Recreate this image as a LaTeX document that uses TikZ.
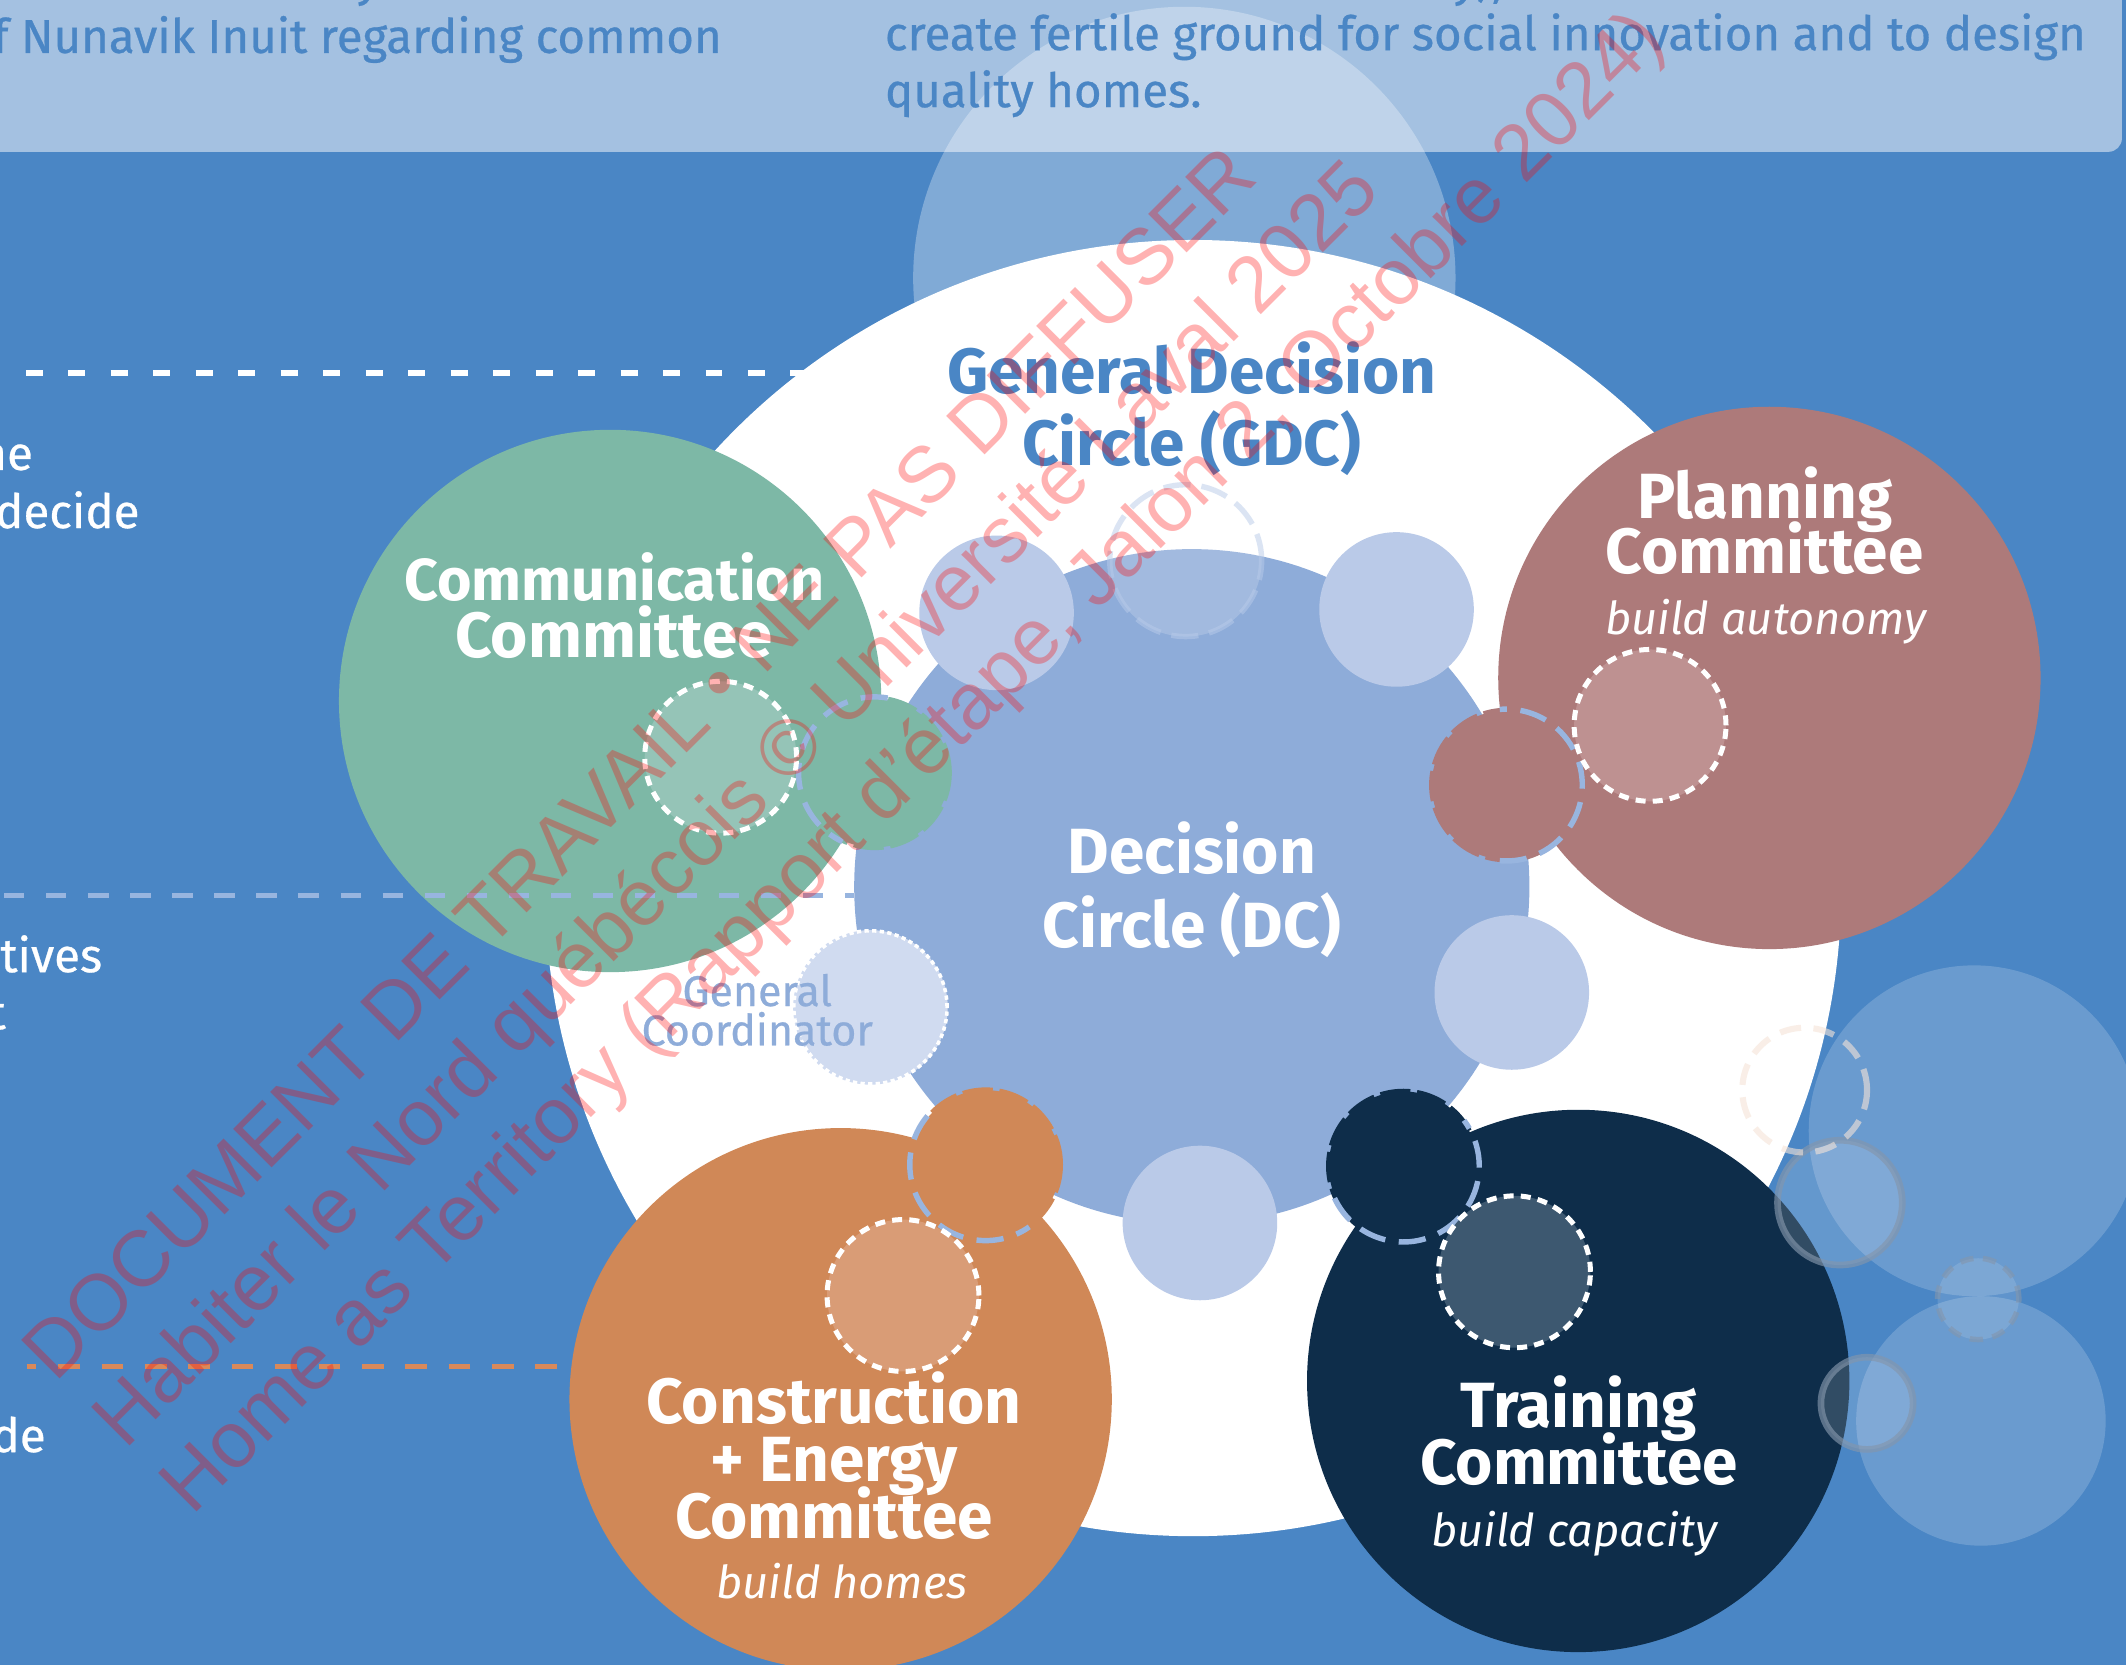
\documentclass[tikz,border=0pt]{standalone}
\usepackage{fontspec}
\setmainfont{Fira Sans}
\newfontfamily\medfont{Fira Sans}[FakeBold=0.6]
\newfontfamily\wmfont{Liberation Sans}
\definecolor{bgblue}{HTML}{4A86C5}
\definecolor{bandblue}{HTML}{A4C1E1}
\definecolor{dcblue}{HTML}{8EACD9}
\definecolor{lightc}{HTML}{BACAE8}
\definecolor{gcfill}{HTML}{D0DBF0}
\definecolor{comgreen}{HTML}{7DB8A6}
\definecolor{comgreenin}{HTML}{95C4B7}
\definecolor{planmauve}{HTML}{AD7A7A}
\definecolor{planmauvein}{HTML}{BE9191}
\definecolor{conorange}{HTML}{D08857}
\definecolor{conorangein}{HTML}{D99C76}
\definecolor{trnavy}{HTML}{0E2D4A}
\definecolor{trnavyin}{HTML}{3D5870}
\definecolor{dashblue}{HTML}{98B5DF}
\definecolor{dashorange}{HTML}{D9895A}
\definecolor{ringgrey}{HTML}{8496AC}
\definecolor{peach}{HTML}{F5E4D8}
\definecolor{faintline}{HTML}{B8CBE9}
\tikzset{
  toptext/.style={inner sep=0pt, font=\medfont\fontsize{9.94}{11}\selectfont, text=bgblue},
  lefttext/.style={inner sep=0pt, font=\medfont\fontsize{9.94}{11}\selectfont, text=white, anchor=base east},
  title/.style={inner sep=0pt, font=\bfseries\fontsize{13.4}{14}\selectfont, anchor=base},
  subtitle/.style={inner sep=0pt, font=\itshape\fontsize{9.5}{11}\selectfont, text=white, anchor=base},
  gctext/.style={inner sep=0pt, font=\medfont\fontsize{9.0}{10}\selectfont, text=dcblue, anchor=base},
  wmtext/.style={inner sep=0pt, font=\wmfont\fontsize{16.6}{18}\selectfont, text=red, text opacity=0.3, anchor=base west, rotate=45},
  whitedots/.style={draw=white, line width=1.05pt, dash pattern=on 2.1pt off 1.5pt},
  gcdots/.style={draw=white, line width=0.75pt, dash pattern=on 0.9pt off 0.7pt},
  attdash/.style={line width=1.14pt, dash pattern=on 6.3pt off 1.4pt},
  arcdash/.style={draw=dashblue, line width=1.14pt, dash pattern=on 5.7pt off 2.85pt},
  hdash/.style={line width=1.14pt},
}
\begin{document}
\begin{tikzpicture}[x=0.01cm,y=0.01cm]
\useasboundingbox (0,0) rectangle (1568,-1228);
\clip (0,0) rectangle (1568,-1228);
% background
\fill[bgblue] (0,0) rectangle (1568,-1228);
% top band
\fill[bandblue, rounded corners=2.85pt] (-30,40) rectangle (1565,-112);
% translucent circle behind top
\fill[white, opacity=0.3] (873.5,-205) circle[radius=200];
% band texts
\node[toptext, anchor=base west] (t0a) at (262,3) {y};
\node[toptext, anchor=base west] (t0b) at (1071,3) {y),};
\node[toptext, anchor=base east] (t1) at (533,-39) {f Nunavik Inuit regarding common};
\node[toptext, anchor=base west] (t2) at (652,-37) {create fertile ground for social innovation and to design};
\node[toptext, anchor=base west] (t3) at (652,-79) {quality homes.};
% dashed lines
\coordinate (w1) at (19,-275); \coordinate (w2) at (600,-275);
\draw[hdash, white, dash pattern=on 3.56pt off 5.35pt] (w1) -- (w2);
\coordinate (o1) at (19.7,-1008); \coordinate (o2) at (428,-1008);
\draw[hdash, dashorange, dash pattern=on 4.55pt off 4.55pt, dash phase=2.5pt] (o1) -- (o2);
% left texts
\node[lefttext] (l1) at (25,-346.6) {ne};
\node[lefttext] (l2) at (103.6,-389.5) {decide};
\node[lefttext] (l3) at (76,-717) {tives};
\node[lefttext] (l4) at (5,-759) {t};
\node[lefttext] (l5) at (34.4,-1071) {de};
% white ring (GDC)
\fill[white] (880,-655) circle[radius=478];
% Decision circle
\fill[dcblue] (879,-654) circle[radius=249];
% light member circles
\fill[lightc] (735,-452) circle[radius=57];
\fill[lightc] (1030,-449.5) circle[radius=57];
\fill[lightc] (1115,-732) circle[radius=57];
\fill[lightc] (885,-902) circle[radius=57];
\filldraw[fill=white, fill opacity=0.18, draw=faintline, draw opacity=0.5, line width=1.14pt, dash pattern=on 5.7pt off 2.3pt] (874.5,-413.5) circle[radius=56];
% general coordinator
\fill[gcfill] (642,-743) circle[radius=57];
\draw[gcdots] (642,-743) circle[radius=56.5];
\node[gctext] (gc1) at (558.5,-742) {General};
\node[gctext] (gc2) at (558.5,-771) {Coordinator};
% committee circles
\fill[comgreen] (450,-517) circle[radius=200];
\fill[planmauve] (1305,-500) circle[radius=200];
\fill[conorange] (620,-1032) circle[radius=200];
\fill[trnavy] (1164,-1018.5) circle[radius=200];
% blue dashed line
\coordinate (b1) at (3,-660.5); \coordinate (b2) at (630,-660.5);
\draw[hdash, dashblue, dash pattern=on 4.27pt off 4.55pt] (b1) -- (b2);
% attached circles
\fill[comgreen] (645,-570) circle[radius=55];
\draw[comgreen, attdash] (645,-570) circle[radius=55];
\draw[arcdash] (645,-570) ++(80:56) arc[start angle=80, end angle=245, radius=56];
\fill[planmauve] (1111,-579) circle[radius=55];
\draw[planmauve, attdash] (1111,-579) circle[radius=55];
\draw[arcdash] (1111,-579) ++(-95:56) arc[start angle=-95, end angle=95, radius=56];
\fill[conorange] (727,-859) circle[radius=55];
\draw[conorange, attdash] (727,-859) circle[radius=55];
\draw[arcdash] (727,-859) ++(140:56) arc[start angle=140, end angle=305, radius=56];
\fill[trnavy] (1035,-860) circle[radius=55];
\draw[trnavy, attdash] (1035,-860) circle[radius=55];
\draw[arcdash] (1035,-860) ++(-155:56) arc[start angle=-155, end angle=37, radius=56];
% inner dotted circles
\filldraw[fill=comgreenin, whitedots] (531.5,-558.5) circle[radius=56];
\filldraw[fill=planmauvein, whitedots] (1217,-535) circle[radius=56];
\filldraw[fill=conorangein, whitedots] (666,-955.5) circle[radius=56];
\filldraw[fill=trnavyin, whitedots] (1117,-938) circle[radius=56];
% titles
\node[title, text=bgblue] (gdc1) at (879,-290) {General Decision};
\node[title, text=bgblue] (gdc2) at (879,-343) {Circle (GDC)};
\node[title, text=white] (dc1) at (879,-644) {Decision};
\node[title, text=white] (dc2) at (879,-699) {Circle (DC)};
\node[title, text=white] (pl1) at (1301.5,-382.5) {Planning};
\node[title, text=white] (pl2) at (1301.5,-423) {Committee};
\node[subtitle] (pl3) at (1302.5,-468) {build autonomy};
\node[title, text=white, font=\bfseries\fontsize{12.4}{14}\selectfont] (cm1) at (453,-443) {Communication};
\node[title, text=white] (cm2) at (453,-485) {Committee};
\node[title, text=white] (co1) at (615,-1050) {Construction};
\node[title, text=white] (co2) at (615,-1092.5) {+ Energy};
\node[title, text=white] (co3) at (615,-1134.7) {Committee};
\node[subtitle] (co4) at (621,-1178.6) {build homes};
\node[title, text=white] (tr1) at (1164.5,-1053) {Training};
\node[title, text=white] (tr2) at (1164.5,-1095) {Committee};
\node[subtitle] (tr3) at (1161,-1140.5) {build capacity};
% decorative circles on the right
\fill[white, opacity=0.18] (1456,-834) circle[radius=122];
\fill[white, opacity=0.18] (1461,-1048) circle[radius=92];
\filldraw[fill=white, fill opacity=0.15, draw=ringgrey, draw opacity=0.65, line width=1.4pt] (1357,-887) circle[radius=46];
\filldraw[fill=white, fill opacity=0.15, draw=ringgrey, draw opacity=0.65, line width=1.4pt] (1377,-1035) circle[radius=34];
\draw[peach, opacity=0.6, line width=1.28pt, dash pattern=on 4.5pt off 2.6pt] (1331,-804) circle[radius=46];
\filldraw[fill=white, fill opacity=0.12, draw=ringgrey, draw opacity=0.6, line width=1.14pt, dash pattern=on 2.8pt off 2pt] (1459,-958) circle[radius=30];
% watermark
\node[wmtext] (wm1) at (40.8,-1021.2) {DOCUMENT DE TRAVAIL • NE PAS DIFFUSER};
\node[wmtext] (wm2) at (91.8,-1070.2) {Habiter le Nord québécois © Université Laval 2025};
\node[wmtext] (wm3) at (141.8,-1119.2) {Home as Territory (Rapport d’étape, Jalon 2, Octobre 2024)};
\end{tikzpicture}
\end{document}
